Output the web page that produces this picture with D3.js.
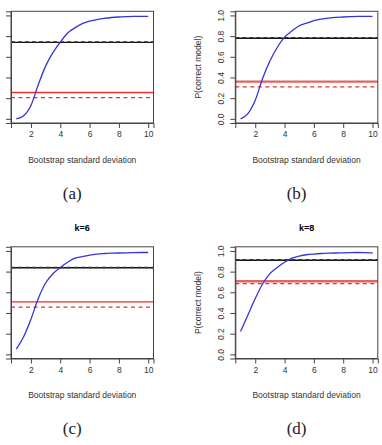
<!DOCTYPE html>
<html>
<head>
<meta charset="utf-8">
<script src="https://cdn.jsdelivr.net/npm/d3@7"></script>
<style>
  body { margin: 0; background: #fff; }
  svg { display: block; }
</style>
</head>
<body>
<div id="viz"></div>
<script>
// bootstrap sd values on the x axis
var sdGrid = [1, 1.5, 2, 2.5, 3, 3.5, 4, 4.5, 5, 5.5, 6, 6.5, 7, 7.5, 8, 8.5, 9, 9.5, 10];

// P(correct model) curves, one per panel
var probA = [0.00, 0.03, 0.13, 0.33, 0.51, 0.64, 0.74, 0.83, 0.88, 0.92, 0.945, 0.96, 0.972, 0.98, 0.985, 0.988, 0.99, 0.99, 0.99];
var probB = [0.00, 0.05, 0.18, 0.39, 0.56, 0.69, 0.79, 0.85, 0.90, 0.925, 0.95, 0.965, 0.975, 0.982, 0.985, 0.988, 0.99, 0.99, 0.99];
var probC = [0.05, 0.17, 0.34, 0.54, 0.69, 0.78, 0.84, 0.89, 0.93, 0.945, 0.96, 0.97, 0.975, 0.978, 0.98, 0.982, 0.984, 0.985, 0.985];
var probD = [0.22, 0.38, 0.54, 0.68, 0.78, 0.84, 0.89, 0.93, 0.95, 0.963, 0.97, 0.975, 0.978, 0.98, 0.982, 0.984, 0.985, 0.983, 0.98];

// horizontal reference lines: black solid, black dashed, red solid, red dashed
var blackSolid  = [0.74, 0.78, 0.837, 0.91];
var blackDashed = [0.745, 0.785, 0.84, 0.915];
var redSolid    = [0.255, 0.36, 0.508, 0.707];
var redDashed   = [0.206, 0.31, 0.457, 0.684];

var titles   = ["", "", "k=6", "k=8"];
var captions = ["(a)", "(b)", "(c)", "(d)"];
var xTicks = [2, 4, 6, 8, 10];
var yTicks = [0, 0.2, 0.4, 0.6, 0.8, 1.0];

var curves = [probA, probB, probC, probD];

var W = 382, H = 445;
var boxW = 142.5, boxH = 111.7;
var origins = [[11, 11.3], [235.3, 11.3], [11, 246.8], [235.3, 246.8]];

var svg = d3.select("#viz").append("svg")
  .attr("width", W).attr("height", H);

var x = d3.scaleLinear().domain([0.64, 10.36]).range([0, boxW]);
var y = d3.scaleLinear().domain([-0.04, 1.04]).range([boxH, 0]);

var line = d3.line()
  .x(function(d) { return x(d[0]); })
  .y(function(d) { return y(d[1]); });

var font = "'Liberation Sans', Arial, sans-serif";

curves.forEach(function(vals, i) {
  var g = svg.append("g")
    .attr("transform", "translate(" + origins[i][0] + "," + origins[i][1] + ")");
  var rightCol = (i % 2 == 1);

  // black lines
  g.append("line")
    .attr("x1", 0).attr("x2", boxW)
    .attr("y1", y(blackSolid[i])).attr("y2", y(blackSolid[i]))
    .attr("stroke", "#111").attr("stroke-width", 1.4);
  g.append("line")
    .attr("x1", 0).attr("x2", boxW)
    .attr("y1", y(blackDashed[i])).attr("y2", y(blackDashed[i]))
    .attr("stroke", "#333").attr("stroke-width", 1.3)
    .attr("stroke-dasharray", "4,3");

  // red lines
  g.append("line")
    .attr("x1", 0).attr("x2", boxW)
    .attr("y1", y(redSolid[i])).attr("y2", y(redSolid[i]))
    .attr("stroke", rightCol ? "#e26464" : "#e8302c")
    .attr("stroke-width", rightCol ? 2.4 : 1.3);
  g.append("line")
    .attr("x1", 0).attr("x2", boxW)
    .attr("y1", y(redDashed[i])).attr("y2", y(redDashed[i]))
    .attr("stroke", "#e8302c").attr("stroke-width", 1.3)
    .attr("stroke-dasharray", "4,3.5");

  // blue curve
  g.append("path")
    .datum(sdGrid.map(function(s, j) { return [s, vals[j]]; }))
    .attr("d", line.curve(d3.curveMonotoneX))
    .attr("fill", "none")
    .attr("stroke", "#3535d5")
    .attr("stroke-width", 1.3);

  // box
  g.append("rect")
    .attr("x", 0).attr("y", 0).attr("width", boxW).attr("height", boxH)
    .attr("fill", "none").attr("stroke", "#444").attr("stroke-width", 1);

  // axes (left column is cropped: its y labels fall outside the picture)
  var xa = g.append("g")
    .attr("transform", "translate(0," + boxH + ")")
    .call(d3.axisBottom(x).tickValues(xTicks).tickSize(5).tickPadding(3));
  var ya = g.append("g")
    .call(d3.axisLeft(y).tickValues(yTicks).tickSize(5).tickPadding(3)
      .tickFormat(rightCol ? d3.format(".1f") : function() { return ""; }));
  [xa, ya].forEach(function(a) {
    a.select(".domain").attr("stroke", "#444");
    a.selectAll(".tick line").attr("stroke", "#444");
    a.selectAll("text").attr("fill", "#333")
      .style("font-family", font).style("font-size", "8.5px");
  });
  ya.selectAll(".tick text")
    .attr("text-anchor", "middle")
    .attr("x", null).attr("dy", null)
    .attr("transform", "translate(-14,0) rotate(-90)")
    .attr("dominant-baseline", "middle");

  g.append("text")
    .attr("x", boxW / 2).attr("y", boxH + 40)
    .attr("text-anchor", "middle")
    .style("font-family", font).style("font-size", "8.5px")
    .attr("fill", "#333")
    .text("Bootstrap standard deviation");

  if (rightCol) {
    g.append("text")
      .attr("transform", "translate(-37," + (boxH / 2) + ") rotate(-90)")
      .attr("text-anchor", "middle")
      .attr("dominant-baseline", "middle")
      .style("font-family", font).style("font-size", "8.5px")
      .attr("fill", "#333")
      .text("P(correct model)");
  }

  if (titles[i]) {
    g.append("text")
      .attr("x", boxW / 2).attr("y", -16)
      .attr("text-anchor", "middle")
      .style("font-family", font).style("font-size", "9px")
      .style("font-weight", "bold")
      .text(titles[i]);
  }

  g.append("text")
    .attr("x", boxW / 2 - 10).attr("y", boxH + 76)
    .attr("text-anchor", "middle")
    .style("font-family", "'Liberation Serif', 'DejaVu Serif', serif")
    .style("font-size", "17px")
    .attr("fill", "#222")
    .text(captions[i]);
});
</script>
</body>
</html>
